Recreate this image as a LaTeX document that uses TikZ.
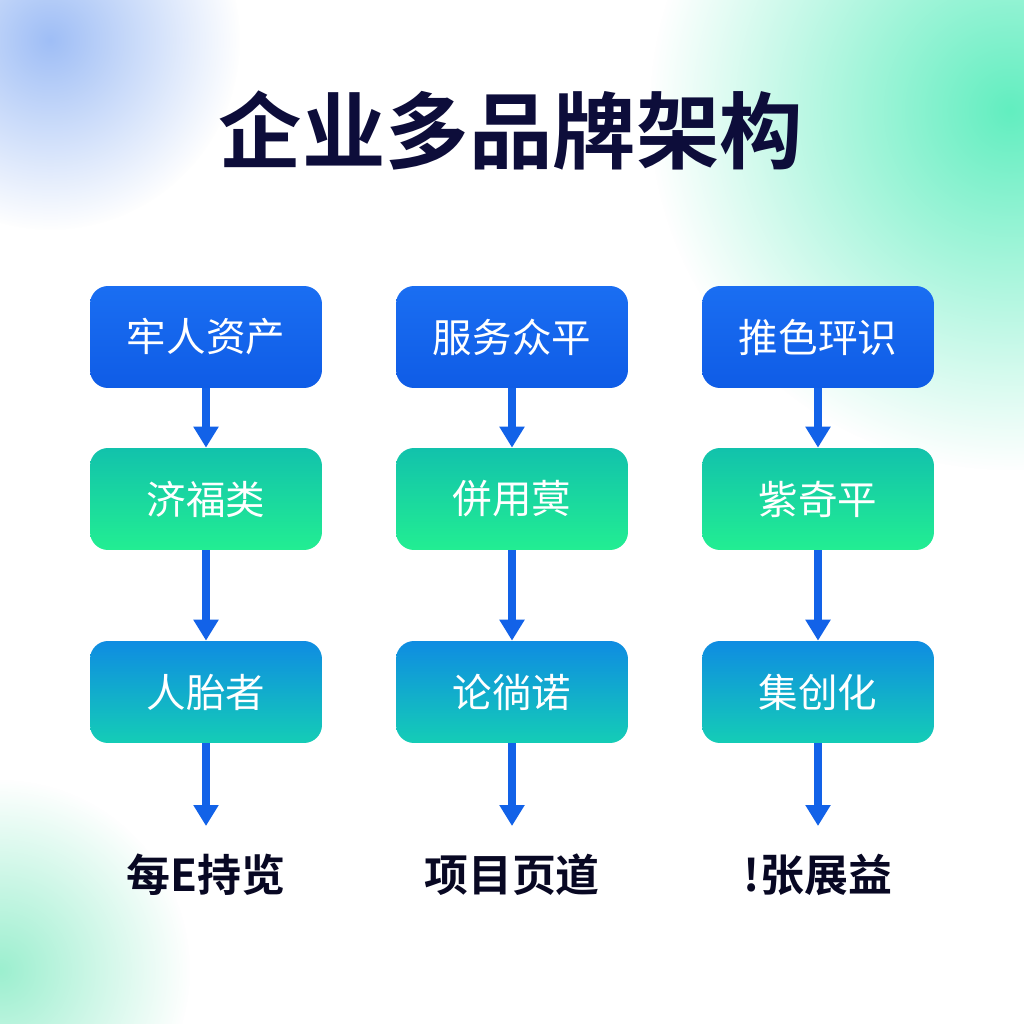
\documentclass[tikz,border=0pt]{standalone}
\usepackage{fontspec}
\usetikzlibrary{positioning,arrows.meta,fadings}
\newfontfamily\cjk{Noto Sans CJK SC}[BoldFont=* Bold]
\definecolor{navy}{HTML}{0D0D3A}
\definecolor{arrowblue}{HTML}{1262E8}
\definecolor{boxblueA}{HTML}{1A6EF2}
\definecolor{boxblueB}{HTML}{0F5CE6}
\definecolor{tealA}{HTML}{12C2AC}
\definecolor{greenB}{HTML}{22EE92}
\definecolor{skyA}{HTML}{0F8CE2}
\definecolor{tealB}{HTML}{14CDB6}
\definecolor{glowblue}{HTML}{9FBEF6}
\definecolor{glowgreen}{HTML}{62EEC0}
\definecolor{glowmint}{HTML}{9CEFCF}
\tikzfading[name=glow, inner color=transparent!0, outer color=transparent!100]

\begin{document}
\begin{tikzpicture}[x=0.02cm, y=-0.02cm, >={Triangle[length=0.42cm,width=0.48cm]}]
  \useasboundingbox (0,0) rectangle (1024,1024);
  \fill[white] (0,0) rectangle (1024,1024);
  % soft glows in the corners
  \fill[glowblue, path fading=glow] (50,40) circle (190);
  \fill[glowgreen, path fading=glow] (1010,110) circle (360);
  \fill[glowmint, path fading=glow] (0,970) circle (190);

  \node[font=\cjk\bfseries\fontsize{47.5}{52}\selectfont, text=navy] (T) at (511,130) {企业多品牌架构};

  \tikzset{
    topbox/.style={rounded corners=0.36cm, minimum width=4.64cm, minimum height=2.04cm, top color=boxblueA, bottom color=boxblueB, text=white, font=\cjk\fontsize{22.5}{26}\selectfont},
    midbox/.style={topbox, top color=tealA, bottom color=greenB},
    lowbox/.style={topbox, top color=skyA, bottom color=tealB},
    endtext/.style={font=\cjk\bfseries\fontsize{25}{28}\selectfont, text=navy!60!black},
    flow/.style={->, draw=arrowblue, line width=0.15cm}
  }

  % column 1
  \node[topbox] (A1) at (206,337) {牢人资产};
  \node[midbox] (A2) at (206,499) {济福类};
  \node[lowbox] (A3) at (206,692) {人胎者};
  \coordinate (A4) at (206,826);
  \node[endtext] (A5) at (206,875) {每E持览};

  % column 2
  \node[topbox] (B1) at (512,337) {服务众平};
  \node[midbox] (B2) at (512,499) {併用蓂};
  \node[lowbox] (B3) at (512,692) {论徜诺};
  \coordinate (B4) at (512,826);
  \node[endtext] (B5) at (512,875) {项目页道};

  % column 3
  \node[topbox] (C1) at (818,337) {推色玶识};
  \node[midbox] (C2) at (818,499) {紫奇平};
  \node[lowbox] (C3) at (818,692) {集创化};
  \coordinate (C4) at (818,826);
  \node[endtext] (C5) at (818,875) {!张展益};

  \foreach \c in {A,B,C} {
    \draw[flow] (\c1) -- (\c2);
    \draw[flow] (\c2) -- (\c3);
    \draw[flow] (\c3) -- (\c4);
  }
\end{tikzpicture}
\end{document}
